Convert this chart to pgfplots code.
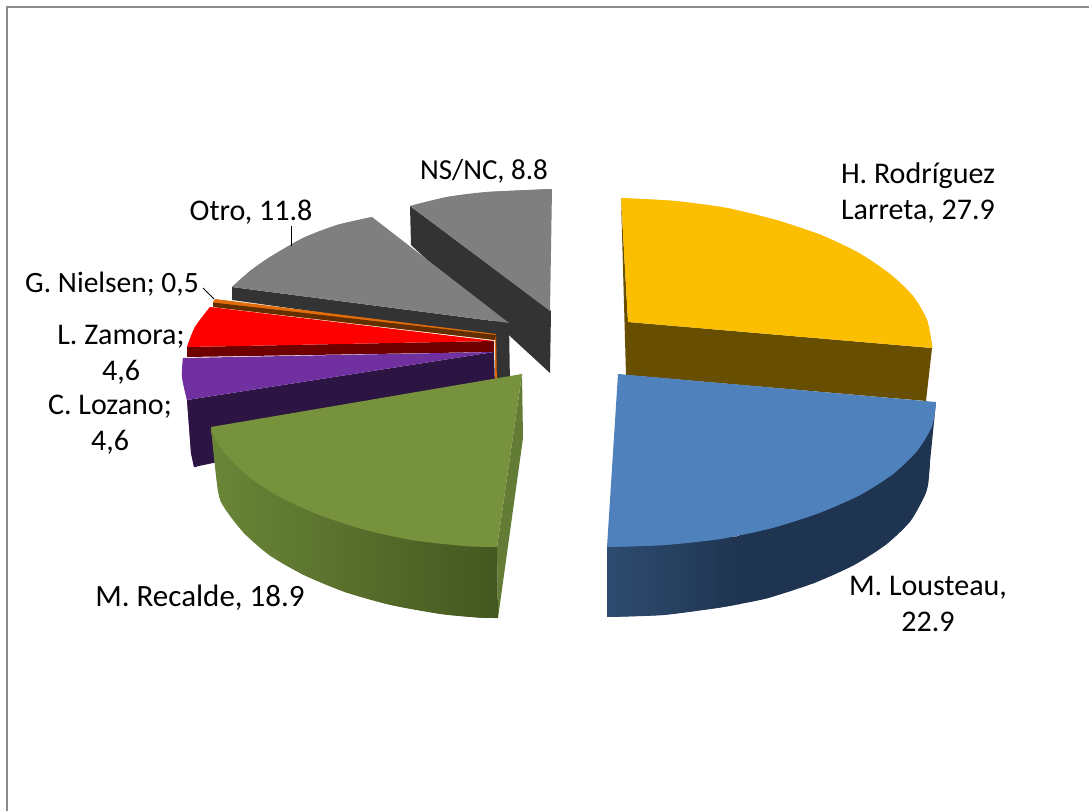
\documentclass[border=0pt]{standalone}
\usepackage{fontspec}
\setmainfont{Carlito}
\usepackage{pgfplots}
\pgfplotsset{compat=1.18}
\definecolor{yel}{HTML}{FBBE00}\definecolor{yeld}{HTML}{674E00}
\definecolor{blu}{HTML}{4F81BD}\definecolor{blul}{HTML}{2E4C70}\definecolor{blud}{HTML}{1F3450}
\definecolor{gre}{HTML}{76923C}\definecolor{gres}{HTML}{627C35}\definecolor{grel}{HTML}{6A8638}\definecolor{grem}{HTML}{5C7530}\definecolor{gred}{HTML}{445720}
\definecolor{gry}{HTML}{7F7F7F}\definecolor{gryd}{HTML}{333333}
\definecolor{ora}{HTML}{E36C0A}\definecolor{orad}{HTML}{632E00}
\definecolor{rdd}{HTML}{6E0000}
\definecolor{pur}{HTML}{7030A0}\definecolor{purd}{HTML}{2C1443}
\definecolor{brd}{HTML}{8C8C8C}
\tikzset{lab/.style={font=\fontsize{30}{36}\selectfont,align=center,text=black,inner sep=0pt},
 pl/.style={draw=none,no marks},
 sm/.style={draw=none,no marks,smooth}}
\begin{document}
\begin{tikzpicture}
\begin{axis}[width=1089pt,height=811pt,scale only axis,xmin=0,xmax=1089,ymin=0,ymax=811,y dir=reverse,axis lines=none,clip=true]
% page
\addplot[fill=white,pl] coordinates {(0,0)(1089,0)(1089,811)(0,811)(0,0)};
% border
\addplot[draw=brd,line width=2pt,no marks] coordinates {(7,811)(7,7)(1089,7)};
% NS/NC
\addplot[fill=gryd,pl] coordinates {(410,206)(551,311)(550,373)(411,245)(410,206)};
\addplot[fill=gry,pl] coordinates {(410,206)(447,197)(487,192)(552,189)(550,311)(410,206)};
\addplot[fill=gry,sm] coordinates {(410,206)(447,197)(487,192)(552,189)};
% Otro
\addplot[fill=gryd,pl] coordinates {(232,287)(509,323)(510,385)(495,385)(495,337)(232,300)(232,287)};
\addplot[fill=gry,pl] coordinates {(372,217)(337,225)(303,238)(270,257)(250,271)(232,287)(509,323)(372,217)};
\addplot[fill=gry,sm] coordinates {(372,217)(337,225)(303,238)(270,257)(250,271)(232,287)};
% G. Nielsen
\addplot[fill=ora,pl] coordinates {(496,334)(497,385)(495,385)(495,340)(213,307)(213,302)(215,299)(496,334)};
\addplot[fill=orad,pl] coordinates {(213,302.5)(213,307)(495,340)(496,335)(213,302.5)};
% L. Zamora
\addplot[fill=rdd,pl] coordinates {(187,347)(187,357)(494,352)(494,341)(187,347)};
\addplot[fill=red,pl] coordinates {(210,307)(195,327)(187,347)(494,341)(210,307)};
\addplot[fill=red,sm] coordinates {(210,307)(195,327)(187,347)};
% C. Lozano
\addplot[fill=pur,pl] coordinates {(187,400)(191,453)(194,467)(197,467)(190,400)(187,400)};
\addplot[fill=purd,pl] coordinates {(187,400)(494,352)(495,385)(218,432)(218,462)(194,467)(191,453)(187,400)};
\addplot[fill=pur,pl] coordinates {(183,358)(182,377)(187,400)(494,352)(183,358)};
\addplot[fill=pur,sm] coordinates {(183,358)(182,377)(187,400)};
% H. Rodriguez Larreta
\addplot[fill=yeld,pl] coordinates {(621,198)(628,322)(932,348)(926,401)(626,375)(621,198)};
\addplot[fill=yel,pl] coordinates {(621,198)(675,201)(727,208)(776,220)(821,235)(859,253)(890,274)(913,296)(927,320)(932,345)(932,348)(628,322)(621,198)};
\addplot[fill=yel,sm] coordinates {(621,198)(675,201)(727,208)(776,220)(821,235)(859,253)(890,274)(913,296)(927,320)(932,345)(932,348)};
% M. Recalde
\addplot[fill=gres,pl] coordinates {(522,374)(523,438)(498,618)(497,547)(522,374)};
\addplot[sm,left color=grel,middle color=grem,right color=gred] coordinates {(211,427)(218,491)(225,508.6)(244,533)(270,555.5)(304,575)(345,592)(391,605)(441,614)(478,617.5)(498,618)};
\addplot[pl,left color=grel,middle color=grem,right color=gred] coordinates {(211,427)(218,491)(225,508.6)(244,533)(270,555.5)(304,575)(345,592)(391,605)(441,614)(478,617.5)(498,618)(497,547)(211,427)};
\addplot[fill=gre,pl] coordinates {(211,427)(215,438.6)(223,451)(246,474.5)(278,496)(317,514)(362,529)(412,540)(465,546)(497,547)(522,374)(211,427)};
\addplot[fill=gre,sm] coordinates {(211,427)(215,438.6)(223,451)(246,474.5)(278,496)(317,514)(362,529)(412,540)(465,546)(497,547)};
% M. Lousteau
\addplot[fill=blud,sm] coordinates {(930,462)(928,484.6)(924,497)(910,521.6)(886,544.5)(854,565)(814,583)(768,598)(739,604)};
\addplot[fill=blud,pl] coordinates {(936,402)(930,462)(928,484.6)(924,497)(910,521.6)(886,544.5)(854,565)(814,583)(768,598)(739,604)(739,530)(936,402)};
\addplot[sm,left color=blul,right color=blud] coordinates {(607,617)(663,615)(717,608)(740,604)};
\addplot[pl,left color=blul,right color=blud] coordinates {(607,547)(740,536)(740,604)(717,608)(663,615)(607,617)(607,547)};
\addplot[fill=blu,pl] coordinates {(618,374)(936,402)(932,426)(917,451)(893,474)(860,495)(819,513)(772,528)(720,539)(664,545)(607,547)(618,374)};
\addplot[fill=blu,sm] coordinates {(936,402)(932,426)(917,451)(893,474)(860,495)(819,513)(772,528)(720,539)(664,545)(607,547)};
% leaders
\addplot[draw=black,line width=1pt,no marks] coordinates {(291,226)(291,246)};
\addplot[draw=black,line width=1pt,no marks] coordinates {(203,288)(214,299)};
% labels
\node[lab,font=\fontsize{29}{36}\selectfont] at (axis cs:484,171) {NS/NC, 8.8};
\node[lab] at (axis cs:918,193) {H. Rodríguez\\Larreta, 27.9};
\node[lab] at (axis cs:251,212) {Otro, 11.8};
\node[lab,font=\fontsize{29.5}{36}\selectfont] at (axis cs:112,284) {G. Nielsen; 0,5};
\node[lab] at (axis cs:121,355) {L. Zamora;\\4,6};
\node[lab] at (axis cs:110,425) {C. Lozano;\\4,6};
\node[lab,font=\fontsize{31}{36}\selectfont] at (axis cs:200,598) {M. Recalde, 18.9};
\node[lab] at (axis cs:928,604) {M. Lousteau,\\22.9};
\end{axis}
\end{tikzpicture}
\end{document}
